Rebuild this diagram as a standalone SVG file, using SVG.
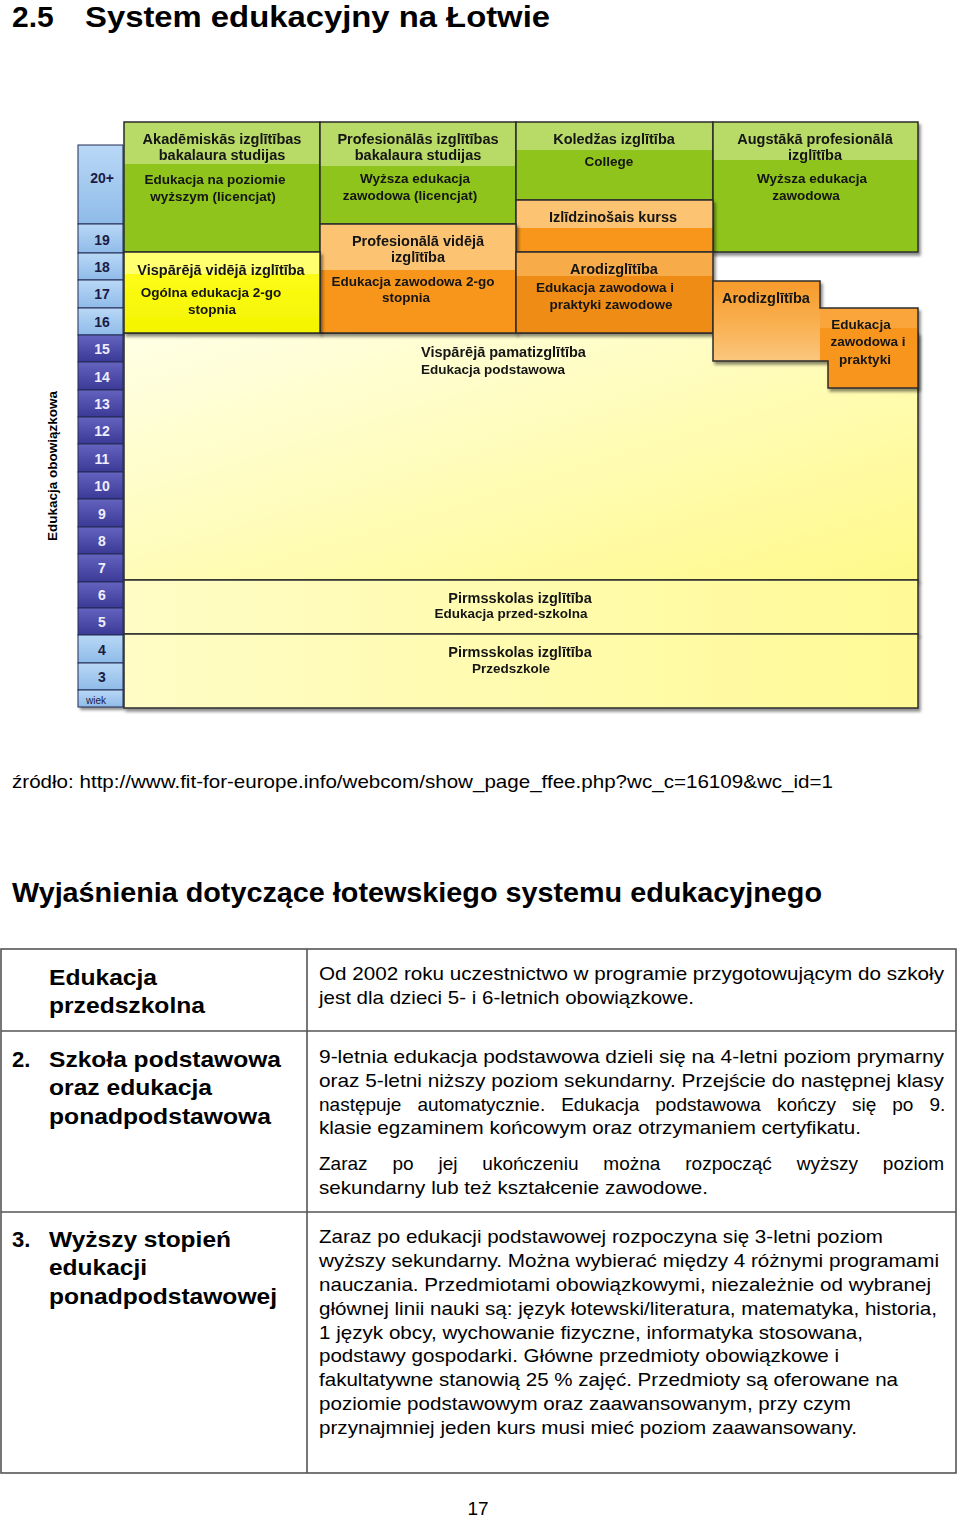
<svg xmlns="http://www.w3.org/2000/svg" width="960" height="1517" viewBox="0 0 960 1517">
<defs>
<style>
.bd{stroke:#2b2b2b;stroke-width:1.5;fill:none}
.t{font-family:"Liberation Sans",Arial,sans-serif;font-weight:bold;font-size:14.5px;fill:#141414;text-anchor:middle}
.s{font-family:"Liberation Sans",Arial,sans-serif;font-weight:bold;font-size:13.5px;fill:#141414;text-anchor:middle}
.st{text-anchor:start}
.al{font-family:"Liberation Sans",Arial,sans-serif;font-weight:bold;font-size:14px;fill:#1b1b45;text-anchor:middle}
.ad{font-family:"Liberation Sans",Arial,sans-serif;font-weight:bold;font-size:14px;fill:#eeeeff;text-anchor:middle}
.h{font-family:"Liberation Sans",Arial,sans-serif;font-weight:bold;fill:#000}
.b{font-family:"Liberation Sans",Arial,sans-serif;font-size:19px;fill:#000}
.lb{font-family:"Liberation Sans",Arial,sans-serif;font-weight:bold;font-size:22px;fill:#000}
.green{fill:#8fc41a}.greenb{fill:#b8da66}
.orange{fill:#f8961e}.orangeb{fill:#fcc373}
.tl{stroke:#555;stroke-width:1.6;fill:none}
</style>
<filter id="sh" x="-5%" y="-5%" width="112%" height="115%">
<feDropShadow dx="2" dy="3" stdDeviation="1.6" flood-color="#000" flood-opacity="0.45"/>
</filter>
<linearGradient id="pale" x1="0" y1="0" x2="1" y2="1">
<stop offset="0" stop-color="#ffffe6"/><stop offset="1" stop-color="#fff98a"/>
</linearGradient>
<linearGradient id="pale2" x1="0" y1="0" x2="1" y2="0">
<stop offset="0" stop-color="#fffcc6"/><stop offset="1" stop-color="#fffa96"/>
</linearGradient>
<linearGradient id="lblue" x1="0" y1="0" x2="0" y2="1">
<stop offset="0" stop-color="#b9d8f6"/><stop offset="1" stop-color="#8fbbe9"/>
</linearGradient>
<linearGradient id="dblue" x1="0" y1="0" x2="0" y2="1">
<stop offset="0" stop-color="#6464c0"/><stop offset="1" stop-color="#3a3a96"/>
</linearGradient>
<linearGradient id="yel" x1="0" y1="0" x2="0" y2="1">
<stop offset="0" stop-color="#ffff20"/><stop offset="1" stop-color="#f4f400"/>
</linearGradient>
<linearGradient id="aro" x1="0" y1="0" x2="0" y2="1">
<stop offset="0" stop-color="#f79a2a"/><stop offset="0.4" stop-color="#f9b050"/><stop offset="1" stop-color="#fcd7a0"/>
</linearGradient>
</defs>
<rect width="960" height="1517" fill="#fff"/>

<g id="title">
<text class="h" x="12" y="27" font-size="30">2.5</text>
<text class="h" x="85" y="27" font-size="30" textLength="465" lengthAdjust="spacingAndGlyphs">System edukacyjny na Łotwie</text>
</g>

<g id="connectors"/>

<g id="age-column">
<rect x="78" y="145" width="45" height="562" fill="#223" filter="url(#sh)"/>
<g stroke="#222a55" stroke-width="1">
<rect x="78" y="145" width="45" height="79" fill="url(#lblue)"/>
<rect x="78" y="224" width="45" height="29" fill="url(#lblue)"/>
<rect x="78" y="253" width="45" height="27" fill="url(#lblue)"/>
<rect x="78" y="280" width="45" height="28" fill="url(#lblue)"/>
<rect x="78" y="308" width="45" height="27" fill="url(#lblue)"/>
<rect x="78" y="335" width="45" height="27" fill="url(#dblue)"/>
<rect x="78" y="362" width="45" height="28" fill="url(#dblue)"/>
<rect x="78" y="390" width="45" height="27" fill="url(#dblue)"/>
<rect x="78" y="417" width="45" height="27" fill="url(#dblue)"/>
<rect x="78" y="444" width="45" height="28" fill="url(#dblue)"/>
<rect x="78" y="472" width="45" height="27" fill="url(#dblue)"/>
<rect x="78" y="499" width="45" height="28" fill="url(#dblue)"/>
<rect x="78" y="527" width="45" height="27" fill="url(#dblue)"/>
<rect x="78" y="554" width="45" height="28" fill="url(#dblue)"/>
<rect x="78" y="582" width="45" height="26" fill="url(#dblue)"/>
<rect x="78" y="608" width="45" height="27" fill="url(#dblue)"/>
<rect x="78" y="635" width="45" height="28" fill="url(#lblue)"/>
<rect x="78" y="663" width="45" height="27" fill="url(#lblue)"/>
<rect x="78" y="690" width="45" height="17" fill="url(#lblue)"/>
</g>
<text class="al" x="102" y="183">20+</text>
<text class="al" x="102" y="245">19</text>
<text class="al" x="102" y="272">18</text>
<text class="al" x="102" y="299">17</text>
<text class="al" x="102" y="327">16</text>
<text class="ad" x="102" y="354">15</text>
<text class="ad" x="102" y="382">14</text>
<text class="ad" x="102" y="409">13</text>
<text class="ad" x="102" y="436">12</text>
<text class="ad" x="102" y="464">11</text>
<text class="ad" x="102" y="491">10</text>
<text class="ad" x="102" y="519">9</text>
<text class="ad" x="102" y="546">8</text>
<text class="ad" x="102" y="573">7</text>
<text class="ad" x="102" y="600">6</text>
<text class="ad" x="102" y="627">5</text>
<text class="al" x="102" y="655">4</text>
<text class="al" x="102" y="682">3</text>
<text class="al" x="96" y="704" font-size="10" style="font-weight:normal;font-size:10px">wiek</text>
</g>

<g id="label-obowiazkowa">
<text class="h" font-size="13.5" text-anchor="middle" transform="translate(57,466) rotate(-90)" fill="#1a1a1a">Edukacja obowiązkowa</text>
</g>

<g id="pamatizglitiba" filter="url(#sh)">
<rect x="124" y="333" width="794" height="247" fill="url(#pale)"/>
<rect class="bd" x="124" y="333" width="794" height="247"/>
<text class="t st" x="421" y="357">Vispārējā pamatizglītība</text>
<text class="s st" x="421" y="374">Edukacja podstawowa</text>
</g>

<g id="pirmsskola1" filter="url(#sh)">
<rect x="124" y="580" width="794" height="54" fill="url(#pale2)"/>
<rect class="bd" x="124" y="580" width="794" height="54"/>
<text class="t" x="520" y="603">Pirmsskolas izglītība</text>
<text class="s" x="511" y="618">Edukacja przed-szkolna</text>
</g>

<g id="pirmsskola2" filter="url(#sh)">
<rect x="124" y="634" width="794" height="74" fill="url(#pale2)"/>
<rect class="bd" x="124" y="634" width="794" height="74"/>
<text class="t" x="520" y="657">Pirmsskolas izglītība</text>
<text class="s" x="511" y="673">Przedszkole</text>
</g>

<g id="akademiskas" filter="url(#sh)">
<rect class="green" x="124" y="122" width="196" height="130"/>
<rect class="greenb" x="124" y="122" width="196" height="42"/>
<rect class="bd" x="124" y="122" width="196" height="130"/>
<text class="t" x="222" y="144">Akadēmiskās izglītības</text>
<text class="t" x="222" y="160">bakalaura studijas</text>
<text class="s" x="215" y="184">Edukacja na poziomie</text>
<text class="s" x="213" y="201">wyższym (licencjat)</text>
</g>

<g id="profesionalas-bakalaura" filter="url(#sh)">
<rect class="green" x="320" y="122" width="196" height="102"/>
<rect class="greenb" x="320" y="122" width="196" height="44"/>
<rect class="bd" x="320" y="122" width="196" height="102"/>
<text class="t" x="418" y="144">Profesionālās izglītības</text>
<text class="t" x="418" y="160">bakalaura studijas</text>
<text class="s" x="415" y="183">Wyższa edukacja</text>
<text class="s" x="410" y="200">zawodowa (licencjat)</text>
</g>

<g id="koledzas" filter="url(#sh)">
<rect class="green" x="516" y="122" width="197" height="78"/>
<rect class="greenb" x="516" y="122" width="197" height="28"/>
<rect class="bd" x="516" y="122" width="197" height="78"/>
<text class="t" x="614" y="144">Koledžas izglītība</text>
<text class="s" x="609" y="166">College</text>
</g>

<g id="augstaka" filter="url(#sh)">
<rect class="green" x="713" y="122" width="205" height="130"/>
<rect class="greenb" x="713" y="122" width="205" height="38"/>
<rect class="bd" x="713" y="122" width="205" height="130"/>
<text class="t" x="815" y="144">Augstākā profesionālā</text>
<text class="t" x="815" y="160">izglītība</text>
<text class="s" x="812" y="183">Wyższa edukacja</text>
<text class="s" x="806" y="200">zawodowa</text>
</g>

<g id="izlidzinosais" filter="url(#sh)">
<rect class="orange" x="516" y="200" width="197" height="52"/>
<rect class="orangeb" x="516" y="200" width="197" height="28"/>
<rect class="bd" x="516" y="200" width="197" height="52"/>
<text class="t" x="613" y="222">Izlīdzinošais kurss</text>
</g>

<g id="profesionala-videja" filter="url(#sh)">
<rect class="orange" x="320" y="224" width="196" height="109"/>
<rect class="orangeb" x="320" y="224" width="196" height="46"/>
<rect class="bd" x="320" y="224" width="196" height="109"/>
<text class="t" x="418" y="246">Profesionālā vidējā</text>
<text class="t" x="418" y="262">izglītība</text>
<text class="s" x="413" y="286">Edukacja zawodowa 2-go</text>
<text class="s" x="406" y="302">stopnia</text>
</g>

<g id="visparejia-videja" filter="url(#sh)">
<rect x="124" y="252" width="196" height="81" fill="url(#yel)"/>
<rect x="124" y="252" width="196" height="22" fill="#ffff70"/>
<rect class="bd" x="124" y="252" width="196" height="81"/>
<text class="t" x="221" y="275">Vispārējā vidējā izglītība</text>
<text class="s" x="211" y="297">Ogólna edukacja 2-go</text>
<text class="s" x="212" y="314">stopnia</text>
</g>

<g id="arodizglitiba-mid" filter="url(#sh)">
<rect x="516" y="252" width="197" height="81" fill="#ef8c12"/>
<rect x="516" y="252" width="197" height="24" fill="#f8ab4a"/>
<rect class="bd" x="516" y="252" width="197" height="81"/>
<text class="t" x="614" y="274">Arodizglītība</text>
<text class="s" x="605" y="292">Edukacja zawodowa i</text>
<text class="s" x="611" y="309">praktyki zawodowe</text>
</g>

<g id="arodizglitiba-right" filter="url(#sh)">
<polygon points="713,281 820,281 820,308 918,308 918,388 828,388 828,361 713,361" fill="url(#aro)"/>
<polygon points="820,308 918,308 918,388 828,388 828,361 820,361" fill="#f7951f"/>
<rect x="820" y="308" width="98" height="20" fill="#f9a53a"/>
<polygon class="bd" points="713,281 820,281 820,308 918,308 918,388 828,388 828,361 713,361"/>
<text class="t st" x="722" y="303">Arodizglītība</text>
<text class="s" x="861" y="329">Edukacja</text>
<text class="s" x="868" y="346">zawodowa i</text>
<text class="s" x="865" y="364">praktyki</text>
</g>

<g id="source">
<text class="b" x="12" y="788" textLength="821" lengthAdjust="spacingAndGlyphs">źródło: http://www.fit-for-europe.info/webcom/show_page_ffee.php?wc_c=16109&amp;wc_id=1</text>
</g>

<g id="heading">
<text class="h" x="12" y="902" font-size="28" textLength="810" lengthAdjust="spacingAndGlyphs">Wyjaśnienia dotyczące łotewskiego systemu edukacyjnego</text>
</g>

<g id="table">
<rect class="tl" x="1" y="949" width="955" height="524"/>
<line class="tl" x1="307" y1="949" x2="307" y2="1473"/>
<line class="tl" x1="1" y1="1031" x2="956" y2="1031"/>
<line class="tl" x1="1" y1="1212" x2="956" y2="1212"/>
</g>

<g id="row1">
<text class="lb" x="49" y="985" textLength="108" lengthAdjust="spacingAndGlyphs">Edukacja</text>
<text class="lb" x="49" y="1013" textLength="156" lengthAdjust="spacingAndGlyphs">przedszkolna</text>
<text class="b" x="319" y="980" textLength="625" lengthAdjust="spacingAndGlyphs">Od 2002 roku uczestnictwo w programie przygotowującym do szkoły</text>
<text class="b" x="319" y="1004" textLength="375" lengthAdjust="spacingAndGlyphs">jest dla dzieci 5- i 6-letnich obowiązkowe.</text>
</g>

<g id="row2">
<text class="lb" x="12" y="1067">2.</text>
<text class="lb" x="49" y="1067" textLength="232" lengthAdjust="spacingAndGlyphs">Szkoła podstawowa</text>
<text class="lb" x="49" y="1095" textLength="163" lengthAdjust="spacingAndGlyphs">oraz edukacja</text>
<text class="lb" x="49" y="1124" textLength="222" lengthAdjust="spacingAndGlyphs">ponadpodstawowa</text>
<text class="b" x="319" y="1063" textLength="625" lengthAdjust="spacingAndGlyphs">9-letnia edukacja podstawowa dzieli się na 4-letni poziom prymarny</text>
<text class="b" x="319" y="1087" textLength="625" lengthAdjust="spacingAndGlyphs">oraz 5-letni niższy poziom sekundarny. Przejście do następnej klasy</text>
<text class="b" x="319" y="1111" style="word-spacing:10.7px">następuje automatycznie. Edukacja podstawowa kończy się po 9.</text>
<text class="b" x="319" y="1134" textLength="542" lengthAdjust="spacingAndGlyphs">klasie egzaminem końcowym oraz otrzymaniem certyfikatu.</text>
<text class="b" x="319" y="1170" style="word-spacing:19.6px">Zaraz po jej ukończeniu można rozpocząć wyższy poziom</text>
<text class="b" x="319" y="1194" textLength="389" lengthAdjust="spacingAndGlyphs">sekundarny lub też kształcenie zawodowe.</text>
</g>

<g id="row3">
<text class="lb" x="12" y="1247">3.</text>
<text class="lb" x="49" y="1247" textLength="182" lengthAdjust="spacingAndGlyphs">Wyższy stopień</text>
<text class="lb" x="49" y="1275" textLength="98" lengthAdjust="spacingAndGlyphs">edukacji</text>
<text class="lb" x="49" y="1304" textLength="228" lengthAdjust="spacingAndGlyphs">ponadpodstawowej</text>
<text class="b" x="319" y="1243" textLength="564" lengthAdjust="spacingAndGlyphs">Zaraz po edukacji podstawowej rozpoczyna się 3-letni poziom</text>
<text class="b" x="319" y="1267" textLength="620" lengthAdjust="spacingAndGlyphs">wyższy sekundarny. Można wybierać między 4 różnymi programami</text>
<text class="b" x="319" y="1291" textLength="612" lengthAdjust="spacingAndGlyphs">nauczania. Przedmiotami obowiązkowymi, niezależnie od wybranej</text>
<text class="b" x="319" y="1315" textLength="618" lengthAdjust="spacingAndGlyphs">głównej linii nauki są: język łotewski/literatura, matematyka, historia,</text>
<text class="b" x="319" y="1339" textLength="544" lengthAdjust="spacingAndGlyphs">1 język obcy, wychowanie fizyczne, informatyka stosowana,</text>
<text class="b" x="319" y="1362" textLength="520" lengthAdjust="spacingAndGlyphs">podstawy gospodarki. Główne przedmioty obowiązkowe i</text>
<text class="b" x="319" y="1386" textLength="579" lengthAdjust="spacingAndGlyphs">fakultatywne stanowią 25 % zajęć. Przedmioty są oferowane na</text>
<text class="b" x="319" y="1410" textLength="532" lengthAdjust="spacingAndGlyphs">poziomie podstawowym oraz zaawansowanym, przy czym</text>
<text class="b" x="319" y="1434" textLength="538" lengthAdjust="spacingAndGlyphs">przynajmniej jeden kurs musi mieć poziom zaawansowany.</text>
</g>

<g id="page-number">
<text class="b" x="478" y="1515" text-anchor="middle">17</text>
</g>
</svg>
